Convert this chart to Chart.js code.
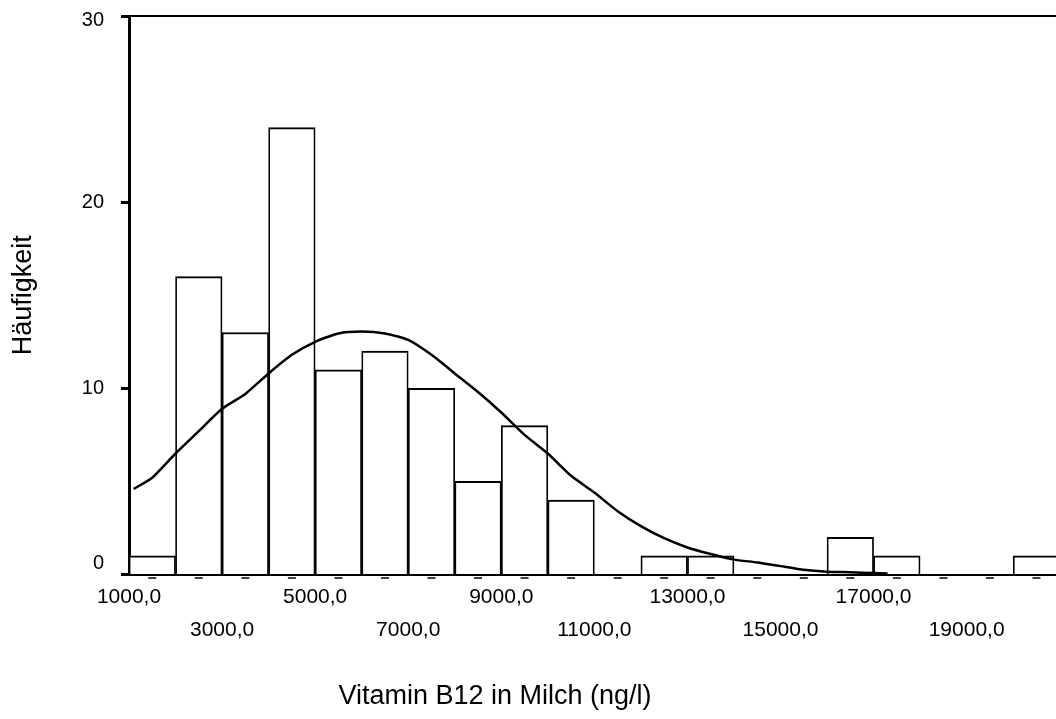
<!DOCTYPE html>
<html>
<head>
<meta charset="utf-8">
<title>Vitamin B12 in Milch</title>
<script src="https://cdn.jsdelivr.net/npm/chart.js@4/dist/chart.umd.min.js"></script>
<style>
  html, body { margin: 0; padding: 0; background: #fff; }
  canvas { display: block; }
</style>
</head>
<body>
<canvas id="hist" width="1056" height="719"></canvas>
<script>
// histogram bins, 1000 ng/l wide, given by their centre
const binCenters = [1500, 2500, 3500, 4500, 5500, 6500, 7500, 8500, 9500, 10500,
                    11500, 12500, 13500, 14500, 15500, 16500, 17500, 18500, 19500, 20500];
const binCounts = [1, 16, 13, 24, 11, 12, 10, 5, 8, 4, 0, 1, 1, 0, 0, 2, 1, 0, 0, 1];

// normal curve
const curveX = [1100, 1500, 2000, 2500, 3000, 3500, 4000, 4500, 5000, 5500, 6000, 6500,
                7000, 7500, 8000, 8500, 9000, 9500, 10000, 10500, 11000, 11500, 12000,
                12500, 13000, 13500, 14000, 14500, 15000, 15500, 16000, 16500, 17000, 17300];
const curveY = [4.6, 5.2, 6.5, 7.7, 8.9, 9.7, 10.8, 11.8, 12.5, 12.95, 13.05, 12.95,
                12.6, 11.8, 10.8, 9.8, 8.7, 7.5, 6.5, 5.3, 4.4, 3.4, 2.6,
                1.95, 1.45, 1.1, 0.8, 0.65, 0.45, 0.25, 0.15, 0.12, 0.08, 0.05];

const xTicks = [1000, 3000, 5000, 7000, 9000, 11000, 13000, 15000, 17000, 19000];
const yTicks = [0, 10, 20, 30];

const xTitle = 'Vitamin B12 in Milch (ng/l)';
const yTitle = 'Häufigkeit';

const FONT = "'Liberation Sans', Arial, Helvetica, sans-serif";
Chart.defaults.font.family = FONT;
Chart.defaults.color = '#000';

// top frame line, the small dashes under each bin and the x title
const axisExtras = {
    id: 'axisExtras',
    afterDraw(chart) {
        const { ctx, chartArea: a, scales: { x } } = chart;
        ctx.save();
        ctx.strokeStyle = '#000';
        ctx.lineWidth = 2;
        ctx.beginPath();
        ctx.moveTo(a.left, a.top);
        ctx.lineTo(a.right, a.top);
        ctx.stroke();

        ctx.lineWidth = 1.5;
        binCenters.forEach(v => {
            const px = x.getPixelForValue(v);
            ctx.beginPath();
            ctx.moveTo(px - 4, a.bottom + 3.5);
            ctx.lineTo(px + 4, a.bottom + 3.5);
            ctx.stroke();
        });

        ctx.fillStyle = '#000';
        ctx.font = '27px ' + FONT;
        ctx.textAlign = 'center';
        ctx.textBaseline = 'middle';
        ctx.fillText(xTitle, 495, 697);
        ctx.restore();
    }
};

new Chart(document.getElementById('hist'), {
    data: {
        datasets: [
            {
                type: 'line',
                order: 0,
                data: curveX.map((v, i) => ({ x: v, y: curveY[i] })),
                borderColor: '#000',
                borderWidth: 2.5,
                pointRadius: 0,
                tension: 0.2,
                fill: false,
            },
            {
                type: 'bar',
                order: 1,
                data: binCenters.map((v, i) => ({ x: v, y: binCounts[i] })),
                backgroundColor: '#fff',
                borderColor: '#000',
                borderWidth: { top: 2, left: 1.75, right: 1.75, bottom: 0 },
                barPercentage: 1,
                categoryPercentage: 1,
            },
        ],
    },
    options: {
        responsive: false,
        animation: false,
        layout: { padding: { top: 16, left: 0, right: 0, bottom: 0 } },
        plugins: {
            legend: { display: false },
            tooltip: { enabled: false },
        },
        scales: {
            x: {
                type: 'linear',
                offset: false,
                min: 1000,
                max: 20920,
                afterBuildTicks: scale => { scale.ticks = xTicks.map(v => ({ value: v })); },
                afterFit: scale => { scale.height = 144.5; },
                ticks: {
                    autoSkip: false,
                    maxRotation: 0,
                    padding: 6,
                    font: { size: 21, lineHeight: 1.57 },
                    // alternate the labels over two rows
                    callback: (v, i) => {
                        const s = v.toFixed(1).replace('.', ',');
                        return i % 2 === 0 ? [s] : ['', s];
                    },
                },
                grid: { display: true, offset: false, drawOnChartArea: false, drawTicks: false },
                border: { display: true, color: '#000', width: 2 },
            },
            y: {
                min: 0,
                max: 30,
                afterBuildTicks: scale => { scale.ticks = yTicks.map(v => ({ value: v })); },
                afterFit: scale => {
                    scale.width = 129;
                    scale.paddingTop = 0;
                    scale.paddingBottom = 0;
                },
                ticks: {
                    padding: 17,
                    // end labels are nudged inwards, as in the original
                    font: c => ({ size: 20, lineHeight: c.tick && c.tick.value === 30 ? 0.4 : 1.1 }),
                    callback: v => (v === 0 ? ['0', ''] : v === 30 ? ['', '30'] : String(v)),
                },
                grid: {
                    drawOnChartArea: false,
                    drawTicks: true,
                    tickLength: 8,
                    tickWidth: 3,
                    tickColor: '#000',
                },
                border: { display: true, color: '#000', width: 3 },
                title: {
                    display: true,
                    text: yTitle,
                    font: { size: 27 },
                    padding: { top: 7, bottom: 0 },
                },
            },
        },
    },
    plugins: [axisExtras],
});
</script>
</body>
</html>
